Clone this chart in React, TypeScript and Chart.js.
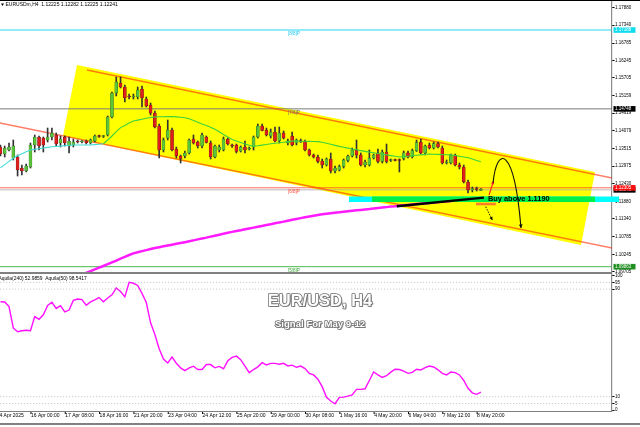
import React, { useEffect, useRef } from 'react';
import { Chart, registerables } from 'chart.js';

Chart.register(...registerables);

const FONT = "'Liberation Sans', Arial, Helvetica, sans-serif";

// ---------------- candles (EURUSD H4, bar 0 = 14 Apr 20:00) ----------------
const OPEN = [
  1.13567, 1.13351, 1.13474, 1.13227, 1.13258, 1.12917, 1.12825, 1.12948, 1.13629, 1.13877,
  1.13846, 1.13784, 1.13877, 1.13939, 1.13691, 1.13877, 1.13598, 1.13629, 1.13738, 1.13722,
  1.13753, 1.13691, 1.13753, 1.13908, 1.13893, 1.13939, 1.14496, 1.15239, 1.15548, 1.15424,
  1.15146, 1.15115, 1.15115, 1.15362, 1.15053, 1.14867, 1.14620, 1.14217, 1.13474, 1.13846,
  1.14094, 1.13505, 1.13289, 1.13289, 1.13382, 1.13815, 1.13722, 1.13598, 1.13877, 1.13691,
  1.13258, 1.13474, 1.13474, 1.13815, 1.13614, 1.13629, 1.13444, 1.13567, 1.13505, 1.13567,
  1.13877, 1.14217, 1.14094, 1.13908, 1.14032, 1.13753, 1.14001, 1.13691, 1.13908, 1.13691,
  1.13769, 1.13738, 1.13474, 1.13320, 1.13258, 1.13134, 1.13010, 1.13196, 1.12825, 1.12855,
  1.12964, 1.13150, 1.13289, 1.13474, 1.13320, 1.13010, 1.13010, 1.13227, 1.13382, 1.13119,
  1.13413, 1.13150, 1.13165, 1.13165, 1.13212, 1.13391, 1.13258, 1.13453, 1.13722, 1.13382,
  1.13629, 1.13536, 1.13676, 1.13536, 1.13072, 1.13072, 1.13305, 1.13010, 1.12948, 1.12484,
  1.12236, 1.12283, 1.12225,
];
const HIGH = [
  1.13629, 1.13598, 1.13691, 1.13784, 1.13320, 1.13010, 1.13041, 1.13691, 1.13939, 1.13908,
  1.13877, 1.14155, 1.14155, 1.14001, 1.13908, 1.13908, 1.13877, 1.13815, 1.13784, 1.13769,
  1.13784, 1.13815, 1.13939, 1.13939, 1.13924, 1.14527, 1.15270, 1.15734, 1.15734, 1.15486,
  1.15208, 1.15208, 1.15424, 1.15455, 1.15115, 1.14929, 1.14682, 1.14279, 1.13846, 1.14403,
  1.14155, 1.13567, 1.13320, 1.13444, 1.13815, 1.13939, 1.13753, 1.14001, 1.13908, 1.13753,
  1.13629, 1.13629, 1.13877, 1.13846, 1.13660, 1.13660, 1.13598, 1.13753, 1.13567, 1.13908,
  1.14279, 1.14279, 1.14155, 1.14124, 1.14186, 1.14186, 1.14063, 1.13815, 1.14032, 1.13815,
  1.13815, 1.13784, 1.13505, 1.13351, 1.13320, 1.13196, 1.13227, 1.13382, 1.12979, 1.13010,
  1.13196, 1.13320, 1.13536, 1.13784, 1.13382, 1.13165, 1.13474, 1.13351, 1.13505, 1.13474,
  1.13660, 1.13196, 1.13196, 1.13196, 1.13444, 1.13444, 1.13505, 1.13784, 1.13815, 1.13629,
  1.13691, 1.13722, 1.13722, 1.13598, 1.13165, 1.13351, 1.13351, 1.13072, 1.13010, 1.12546,
  1.12329, 1.12329, 1.12282,
];
const LOW = [
  1.13289, 1.13258, 1.13444, 1.13165, 1.12670, 1.12701, 1.12794, 1.12917, 1.13413, 1.13474,
  1.13413, 1.13722, 1.13784, 1.13598, 1.13567, 1.13598, 1.13382, 1.13567, 1.13691, 1.13691,
  1.13660, 1.13660, 1.13722, 1.13862, 1.13862, 1.13908, 1.14465, 1.15146, 1.15393, 1.14960,
  1.15053, 1.15053, 1.15053, 1.14805, 1.14805, 1.14558, 1.14155, 1.13227, 1.13413, 1.13784,
  1.13444, 1.13227, 1.13072, 1.13227, 1.13351, 1.13660, 1.13536, 1.13536, 1.13691, 1.13196,
  1.13227, 1.13413, 1.13444, 1.13629, 1.13552, 1.13382, 1.13413, 1.13382, 1.13474, 1.13474,
  1.13846, 1.14063, 1.13908, 1.13846, 1.13722, 1.13691, 1.13815, 1.13629, 1.13598, 1.13629,
  1.13707, 1.13444, 1.13289, 1.13227, 1.13072, 1.12917, 1.12979, 1.12763, 1.12763, 1.12825,
  1.12917, 1.13103, 1.13258, 1.13227, 1.12979, 1.12948, 1.12979, 1.13196, 1.13072, 1.13072,
  1.13072, 1.13119, 1.13134, 1.12794, 1.13165, 1.13227, 1.13227, 1.13428, 1.13351, 1.13320,
  1.13505, 1.13505, 1.13536, 1.13041, 1.13041, 1.13041, 1.12979, 1.12886, 1.12453, 1.12144,
  1.12175, 1.12206, 1.12225,
];
const CLOSE = [
  1.13351, 1.13536, 1.13567, 1.13598, 1.12855, 1.12825, 1.12979, 1.13629, 1.13877, 1.13598,
  1.13629, 1.13877, 1.14001, 1.13660, 1.13815, 1.13691, 1.13753, 1.13722, 1.13722, 1.13738,
  1.13691, 1.13784, 1.13908, 1.13893, 1.13908, 1.14496, 1.15239, 1.15579, 1.15424, 1.15084,
  1.15115, 1.15146, 1.15332, 1.15084, 1.14836, 1.14620, 1.14186, 1.13474, 1.13784, 1.14094,
  1.13474, 1.13289, 1.13212, 1.13382, 1.13784, 1.13691, 1.13598, 1.13939, 1.13707, 1.13258,
  1.13598, 1.13567, 1.13815, 1.13660, 1.13598, 1.13428, 1.13567, 1.13474, 1.13536, 1.13877,
  1.14217, 1.14078, 1.13939, 1.14032, 1.13753, 1.14001, 1.13846, 1.13753, 1.13629, 1.13784,
  1.13738, 1.13474, 1.13320, 1.13258, 1.13119, 1.13010, 1.13196, 1.12825, 1.12917, 1.12964,
  1.13165, 1.13289, 1.13474, 1.13320, 1.13010, 1.13103, 1.13227, 1.13320, 1.13119, 1.13413,
  1.13119, 1.13165, 1.13150, 1.13150, 1.13391, 1.13258, 1.13453, 1.13701, 1.13382, 1.13598,
  1.13536, 1.13676, 1.13567, 1.13072, 1.13088, 1.13320, 1.13010, 1.12948, 1.12494, 1.12236,
  1.12283, 1.12252, 1.12241,
];

// ---------------- moving averages ----------------
const MA_FAST = [
  1.12926, 1.13022, 1.13122, 1.13221, 1.13295, 1.13357, 1.13419, 1.13474, 1.13496, 1.13514,
  1.13536, 1.13555, 1.13573, 1.13583, 1.13595, 1.13607, 1.13620, 1.13629, 1.13629, 1.13629,
  1.13629, 1.13629, 1.13641, 1.13651, 1.13669, 1.13784, 1.13908, 1.14041, 1.14167, 1.14236,
  1.14310, 1.14375, 1.14400, 1.14428, 1.14456, 1.14481, 1.14499, 1.14502, 1.14505, 1.14508,
  1.14511, 1.14499, 1.14487, 1.14471, 1.14440, 1.14388, 1.14335, 1.14276, 1.14233, 1.14180,
  1.14118, 1.14038, 1.13957, 1.13880, 1.13800, 1.13750, 1.13707, 1.13663, 1.13620, 1.13586,
  1.13604, 1.13626, 1.13645, 1.13666, 1.13682, 1.13700, 1.13716, 1.13734, 1.13750, 1.13750,
  1.13747, 1.13744, 1.13741, 1.13738, 1.13734, 1.13713, 1.13682, 1.13651, 1.13617, 1.13586,
  1.13561, 1.13533, 1.13508, 1.13481, 1.13456, 1.13431, 1.13409, 1.13388, 1.13366, 1.13344,
  1.13323, 1.13301, 1.13280, 1.13258, 1.13270, 1.13283, 1.13298, 1.13311, 1.13323, 1.13339,
  1.13351, 1.13345, 1.13339, 1.13332, 1.13329, 1.13323, 1.13304, 1.13283, 1.13258, 1.13233,
  1.13199, 1.13153, 1.13110,
];
const MA_FAST_CYAN_UNTIL = 24;
const MA_SLOW_FIRST_BAR = 17;
const MA_SLOW = [
  1.09516, 1.09569, 1.09621, 1.09674, 1.09726, 1.09779, 1.09832, 1.09884,
  1.09940, 1.09996, 1.10051, 1.10110, 1.10169, 1.10225, 1.10277, 1.10311,
  1.10345, 1.10376, 1.10410, 1.10441, 1.10466, 1.10494, 1.10519, 1.10544,
  1.10571, 1.10596, 1.10621, 1.10649, 1.10677, 1.10708, 1.10736, 1.10763,
  1.10794, 1.10822, 1.10850, 1.10884, 1.10912, 1.10940, 1.10968, 1.10992,
  1.11020, 1.11045, 1.11073, 1.11098, 1.11125, 1.11153, 1.11178, 1.11206,
  1.11234, 1.11258, 1.11286, 1.11314, 1.11339, 1.11367, 1.11392, 1.11416,
  1.11441, 1.11466, 1.11488, 1.11503, 1.11518, 1.11534, 1.11549, 1.11565,
  1.11580, 1.11593, 1.11608, 1.11621, 1.11636, 1.11648, 1.11664, 1.11679,
  1.11692, 1.11707, 1.11723, 1.11735, 1.11751, 1.11763, 1.11775, 1.11788,
  1.11800, 1.11812, 1.11825, 1.11837, 1.11850, 1.11862, 1.11874, 1.11887,
  1.11899, 1.11915, 1.11927, 1.11939, 1.11952, 1.11964, 1.11980, 1.11992,
];

// ---------------- oscillator (Aquila) ----------------
const AQUILA = [
  80.6, 80.4, 77.0, 61.1, 58.3, 59.0, 59.4, 59.1, 69.5, 67.5,
  70.9, 77.8, 80.2, 75.6, 77.6, 73.1, 74.4, 81.6, 82.6, 82.2,
  78.0, 80.5, 81.9, 83.7, 80.5, 83.4, 85.7, 90.8, 88.2, 84.2,
  95.0, 94.3, 92.7, 86.8, 80.0, 64.9, 56.2, 45.7, 38.0, 35.1,
  39.5, 34.9, 31.4, 29.4, 31.4, 32.7, 30.2, 30.2, 33.9, 33.9,
  31.5, 32.5, 30.8, 36.7, 39.2, 40.2, 37.5, 32.8, 27.9, 30.2,
  32.2, 35.3, 33.6, 34.8, 34.8, 34.2, 34.8, 32.9, 33.5, 31.9,
  32.8, 30.9, 27.3, 26.2, 23.0, 17.5, 9.6, 6.8, 4.8, 9.5,
  9.7, 10.5, 11.4, 15.5, 15.5, 15.9, 22.1, 28.4, 26.2, 24.4,
  25.6, 28.3, 30.4, 30.2, 29.1, 27.4, 28.1, 30.4, 29.9, 31.6,
  32.8, 32.1, 30.0, 27.4, 26.2, 28.4, 27.9, 26.2, 22.1, 16.3,
  12.9, 11.8, 13.4,
];
const OSC_TICKS = [100, 95, 90, 10, 5, 0];
const OSC_LEVELS = [95, 90, 10, 5];

// ---------------- axes ----------------
const PRICE_TICKS = [
  1.1788, 1.1734, 1.16785, 1.16245, 1.15705, 1.15159, 1.14619, 1.14079,
  1.13515, 1.12975, 1.1243, 1.1188, 1.1134, 1.10785, 1.10245, 1.09705,
];
const TIME_LABELS = [
  '14 Apr 2025', '16 Apr 00:00', '17 Apr 08:00', '18 Apr 16:00', '21 Apr 20:00',
  '23 Apr 04:00', '24 Apr 12:00', '25 Apr 20:00', '29 Apr 00:00', '30 Apr 08:00',
  '1 May 16:00', '4 May 20:00', '6 May 04:00', '7 May 12:00', '8 May 20:00',
];
const TIME_LABEL_BARS = [-1, 7, 15, 23, 31, 39, 47, 55, 63, 71, 79, 87, 95, 103, 111];

// ---------------- levels / drawn objects ----------------
const MURREY_NAMES = ['[8/8]P', '[7/8]P', '[6/8]P', '[5/8]P'];
const MURREY_VALUES = [1.17188, 1.14748, 1.12305, 1.09863];
const MURREY_LABEL_BAR = 67;
const BID = 1.12241;
const AXIS_BOX_VALUES = [1.17188, 1.14748, 1.12241, 1.12305, 1.09863];

const CHANNEL_BOX_BARS = [17.85, 138.6, 135.33, 14.59];
const CHANNEL_BOX_PRICES = [1.16105, 1.12794, 1.10534, 1.13908];
const CHANNEL_UPPER_BARS = [20.18, 142.6];
const CHANNEL_UPPER_PRICES = [1.1595, 1.12608];
const CHANNEL_LOWER_BARS = [-0.1, 142.6];
const CHANNEL_LOWER_PRICES = [1.1431, 1.10441];
const SUPPORT_BARS = [92.4, 112.7];
const SUPPORT_PRICES = [1.11735, 1.12];
const BUY_ZONE_BARS = [81.25, 144.2];
const BUY_ZONE_INNER_BARS = [86.6, 138.6];
const BUY_ZONE_PRICES = [1.11865, 1.12035];
const BUY_TEXT = 'Buy above 1.1190';
const BUY_TEXT_BAR = 113.65;
const BUY_TEXT_PRICE = 1.11958;
const ORANGE_MARK_BARS = [110.86, 115.5];
const ORANGE_MARK_PRICE = 1.11803;
const RED_ARROW_BARS = [113.9, 114.94];
const RED_ARROW_PRICES = [1.12082, 1.12515];
const ARC_BARS = [114.82, 115.75, 119.71, 121.35];
const ARC_PRICES = [1.12453, 1.13629, 1.13629, 1.1106];
const DROP_ARROW_BARS = [113.12, 114.66];
const DROP_ARROW_PRICES = [1.1172, 1.11308];

// ---------------- layout constants ----------------
const X_MIN = -0.1;
const X_MAX = -0.1 + 612 / 4.29;
const Y_MIN = 1.09699;
const Y_MAX = 1.18117;

const MURREY_COLORS = ['#22d8f0', '#7a7a7a', 'rgba(255,60,40,0.75)', '#49b84a'];
const MURREY_TEXT_COLORS = ['#22c8f0', '#6a6a6a', '#ff4a3a', '#3aa83a'];
const BOX_COLORS = ['#10dcef', '#000000', '#000000', '#ff1010', '#1f8f1f'];

function arrowHead(ctx: CanvasRenderingContext2D, x0: number, y0: number, x1: number, y1: number, size: number, color: string) {
  const ang = Math.atan2(y1 - y0, x1 - x0);
  ctx.fillStyle = color;
  ctx.beginPath();
  ctx.moveTo(x1, y1);
  ctx.lineTo(x1 - size * Math.cos(ang - 0.5), y1 - size * Math.sin(ang - 0.5));
  ctx.lineTo(x1 - size * Math.cos(ang + 0.5), y1 - size * Math.sin(ang + 0.5));
  ctx.closePath();
  ctx.fill();
}

const mainDecor = {
  id: 'mainDecor',
  beforeDatasetsDraw(chart: any) {
    const { ctx, chartArea: a, scales } = chart;
    const X = (v: number) => scales.x.getPixelForValue(v);
    const Y = (v: number) => scales.y.getPixelForValue(v);
    ctx.save();
    ctx.beginPath();
    ctx.rect(a.left, a.top, a.right - a.left, a.bottom - a.top);
    ctx.clip();
    ctx.beginPath();
    CHANNEL_BOX_BARS.forEach((b, i) => {
      const px = X(b);
      const py = Y(CHANNEL_BOX_PRICES[i]);
      if (i === 0) ctx.moveTo(px, py);
      else ctx.lineTo(px, py);
    });
    ctx.closePath();
    ctx.fillStyle = '#ffff00';
    ctx.fill();
    ctx.restore();
  },
  afterDatasetsDraw(chart: any) {
    const { ctx, scales } = chart;
    const X = (v: number) => scales.x.getPixelForValue(v);
    const Y = (v: number) => scales.y.getPixelForValue(v);
    ctx.save();

    // Murrey level labels
    ctx.font = `4.6px ${FONT}`;
    ctx.textAlign = 'left';
    ctx.textBaseline = 'top';
    MURREY_NAMES.forEach((n, i) => {
      ctx.fillStyle = MURREY_TEXT_COLORS[i];
      ctx.fillText(n, X(MURREY_LABEL_BAR), Y(MURREY_VALUES[i]) + 1.5);
    });

    // buy zone band
    const zTop = Y(BUY_ZONE_PRICES[1]);
    const zBot = Y(BUY_ZONE_PRICES[0]);
    ctx.fillStyle = '#00ffff';
    ctx.fillRect(X(BUY_ZONE_BARS[0]), zTop, X(BUY_ZONE_BARS[1]) - X(BUY_ZONE_BARS[0]), zBot - zTop);
    ctx.fillStyle = '#00f04a';
    ctx.fillRect(X(BUY_ZONE_INNER_BARS[0]), zTop, X(BUY_ZONE_INNER_BARS[1]) - X(BUY_ZONE_INNER_BARS[0]), zBot - zTop);

    // black support line
    ctx.strokeStyle = '#000';
    ctx.lineWidth = 2.4;
    ctx.beginPath();
    ctx.moveTo(X(SUPPORT_BARS[0]), Y(SUPPORT_PRICES[0]));
    ctx.lineTo(X(SUPPORT_BARS[1]), Y(SUPPORT_PRICES[1]));
    ctx.stroke();

    // orange mark
    ctx.strokeStyle = '#ff7f27';
    ctx.lineWidth = 2.6;
    ctx.beginPath();
    ctx.moveTo(X(ORANGE_MARK_BARS[0]), Y(ORANGE_MARK_PRICE));
    ctx.lineTo(X(ORANGE_MARK_BARS[1]), Y(ORANGE_MARK_PRICE));
    ctx.stroke();

    // dashed drop arrow
    const d0x = X(DROP_ARROW_BARS[0]), d0y = Y(DROP_ARROW_PRICES[0]);
    const d1x = X(DROP_ARROW_BARS[1]), d1y = Y(DROP_ARROW_PRICES[1]);
    ctx.strokeStyle = '#000';
    ctx.lineWidth = 0.9;
    ctx.setLineDash([1.5, 1.2]);
    ctx.beginPath();
    ctx.moveTo(d0x, d0y);
    ctx.lineTo(d1x, d1y);
    ctx.stroke();
    ctx.setLineDash([]);
    arrowHead(ctx, d0x, d0y, d1x, d1y, 3.5, '#000');

    // red up arrow
    const r0x = X(RED_ARROW_BARS[0]), r0y = Y(RED_ARROW_PRICES[0]);
    const r1x = X(RED_ARROW_BARS[1]), r1y = Y(RED_ARROW_PRICES[1]);
    ctx.strokeStyle = '#ff2020';
    ctx.lineWidth = 1.1;
    ctx.beginPath();
    ctx.moveTo(r0x, r0y);
    ctx.lineTo(r1x, r1y);
    ctx.stroke();
    arrowHead(ctx, r0x, r0y, r1x, r1y, 3.5, '#ff2020');

    // black arc
    const ax = ARC_BARS.map(X);
    const ay = ARC_PRICES.map(Y);
    ctx.strokeStyle = '#111';
    ctx.lineWidth = 1.1;
    ctx.beginPath();
    ctx.moveTo(ax[0], ay[0]);
    ctx.bezierCurveTo(ax[1], ay[1], ax[2], ay[2], ax[3], ay[3]);
    ctx.stroke();
    arrowHead(ctx, ax[2], ay[2], ax[3], ay[3], 4, '#111');

    // text
    ctx.font = `bold 7.4px ${FONT}`;
    ctx.fillStyle = '#000';
    ctx.textAlign = 'left';
    ctx.textBaseline = 'middle';
    ctx.fillText(BUY_TEXT, X(BUY_TEXT_BAR), Y(BUY_TEXT_PRICE));

    ctx.restore();
  },
  afterDraw(chart: any) {
    const { ctx, chartArea: a, scales } = chart;
    const Y = (v: number) => scales.y.getPixelForValue(v);
    ctx.save();
    ctx.font = `4.5px ${FONT}`;
    ctx.textAlign = 'left';
    ctx.textBaseline = 'middle';
    AXIS_BOX_VALUES.forEach((v, i) => {
      const py = Y(v);
      ctx.fillStyle = BOX_COLORS[i];
      ctx.fillRect(a.right + 1.5, py - 2.8, 22, 5.6);
      ctx.fillStyle = '#fff';
      ctx.fillText(v.toFixed(5), a.right + 3, py + 0.2);
    });
    // header
    ctx.fillStyle = '#000';
    ctx.beginPath();
    ctx.moveTo(1, 3.5);
    ctx.lineTo(4, 3.5);
    ctx.lineTo(2.5, 6);
    ctx.closePath();
    ctx.fill();
    ctx.font = `5px ${FONT}`;
    ctx.fillText('EURUSDm,H4  1.12225 1.12282 1.12225 1.12241', 5.5, 5);
    ctx.restore();
  },
};

const oscDecor = {
  id: 'oscDecor',
  afterDraw(chart: any) {
    const { ctx, chartArea: a, scales } = chart;
    const X = (v: number) => scales.x.getPixelForValue(v);
    ctx.save();
    ctx.strokeStyle = '#808080';
    ctx.lineWidth = 1;
    ctx.beginPath();
    ctx.moveTo(0, a.bottom + 0.5);
    ctx.lineTo(a.right, a.bottom + 0.5);
    ctx.stroke();

    ctx.font = `5px ${FONT}`;
    ctx.fillStyle = '#000';
    ctx.textAlign = 'left';
    ctx.textBaseline = 'top';
    ctx.strokeStyle = '#000';
    TIME_LABELS.forEach((t, i) => {
      const px = X(TIME_LABEL_BARS[i]);
      ctx.beginPath();
      ctx.moveTo(px + 0.5, a.bottom + 1);
      ctx.lineTo(px + 0.5, a.bottom + 3);
      ctx.stroke();
      ctx.fillText(t, px + 0.5, a.bottom + 2.4);
    });

    ctx.font = `4.9px ${FONT}`;
    ctx.textBaseline = 'middle';
    ctx.fillText('Aquila(240) 52.9859  Aquila(50) 98.5417', -1.5, 5.8);

    const cx = 320;
    const drawTitle = (txt: string, size: number, y: number) => {
      ctx.font = `bold ${size}px ${FONT}`;
      ctx.textAlign = 'center';
      ctx.textBaseline = 'middle';
      ctx.lineJoin = 'round';
      ctx.fillStyle = '#9a9a9a';
      ctx.fillText(txt, cx + 1.2, y + 1.2);
      ctx.strokeStyle = '#6e6e6e';
      ctx.lineWidth = 1.6;
      ctx.strokeText(txt, cx, y);
      ctx.fillStyle = '#ffffff';
      ctx.fillText(txt, cx, y);
    };
    drawTitle('EUR/USD, H4', 16.5, 28.7);
    drawTitle('Signal For May 9-12', 9.6, 51.3);
    ctx.restore();
  },
};

function mainConfig(): any {
  const bars = OPEN.map((_, i) => i);
  const flat = (v: number) => [{ x: X_MIN, y: v }, { x: X_MAX + 3, y: v }];
  const datasets: any[] = [];
  MURREY_VALUES.forEach((v, i) => {
    datasets.push({
      type: 'line', data: flat(v), borderColor: MURREY_COLORS[i], borderWidth: 1,
      pointRadius: 0, order: 9,
    });
  });
  datasets.push({
    type: 'line', data: flat(BID), borderColor: '#a8a8a8', borderWidth: 0.8, pointRadius: 0, order: 9,
  });
  datasets.push({
    type: 'line',
    data: CHANNEL_UPPER_BARS.map((b, i) => ({ x: b, y: CHANNEL_UPPER_PRICES[i] })),
    borderColor: 'rgba(255,45,10,0.62)', borderWidth: 1.4, pointRadius: 0, order: 8,
  });
  datasets.push({
    type: 'line',
    data: CHANNEL_LOWER_BARS.map((b, i) => ({ x: b, y: CHANNEL_LOWER_PRICES[i] })),
    borderColor: 'rgba(255,45,10,0.62)', borderWidth: 1.4, pointRadius: 0, order: 8,
  });
  datasets.push({
    type: 'bar',
    data: bars.map((i) => ({ x: i, y: [LOW[i], HIGH[i]] })),
    backgroundColor: '#333333', barThickness: 1, grouped: false, order: 6,
  });
  datasets.push({
    type: 'bar',
    data: bars.map((i) => ({ x: i, y: [OPEN[i], CLOSE[i]] })),
    backgroundColor: bars.map((i) => (CLOSE[i] >= OPEN[i] ? '#5cc63a' : '#e01e1e')),
    borderColor: bars.map((i) => (CLOSE[i] >= OPEN[i] ? '#2f6e1e' : '#6e1010')),
    borderWidth: 0.5, borderSkipped: false,
    barThickness: 3, minBarLength: 1, grouped: false, order: 5,
  });
  datasets.push({
    type: 'line',
    data: bars.map((i) => ({ x: i, y: MA_FAST[i] })),
    borderColor: '#3cd23c', borderWidth: 1.1, pointRadius: 0, order: 2,
    segment: { borderColor: (c: any) => (c.p0DataIndex < MA_FAST_CYAN_UNTIL ? '#40dcd6' : '#3cd23c') },
  });
  datasets.push({
    type: 'line',
    data: MA_SLOW.map((v, k) => ({ x: k + MA_SLOW_FIRST_BAR, y: v })),
    borderColor: '#ff1aff', borderWidth: 2.5, pointRadius: 0, order: 1,
  });

  return {
    type: 'line',
    data: { datasets },
    options: {
      animation: false,
      responsive: false,
      devicePixelRatio: 1,
      events: [],
      layout: { padding: { left: 0, right: 0, top: 0, bottom: 6 } },
      plugins: { legend: { display: false }, tooltip: { enabled: false } },
      scales: {
        x: { type: 'linear', min: X_MIN, max: X_MAX, display: false, offset: false },
        y: {
          type: 'linear', position: 'right', min: Y_MIN, max: Y_MAX,
          afterBuildTicks: (s: any) => { s.ticks = PRICE_TICKS.map((v) => ({ value: v })); },
          afterFit: (s: any) => { s.width = 28; s.paddingTop = 0; s.paddingBottom = 0; },
          ticks: {
            autoSkip: false, padding: 0.5, color: '#000',
            font: { size: 4.5, family: FONT },
            callback: (v: any) => Number(v).toFixed(5),
          },
          grid: { drawOnChartArea: false, drawTicks: true, tickLength: 2.5, color: '#000' },
          border: { display: true, color: '#8c8c8c', width: 1.2 },
        },
      },
    },
    plugins: [mainDecor],
  };
}

function oscConfig(): any {
  const bars = AQUILA.map((_, i) => i);
  const datasets: any[] = OSC_LEVELS.map((v) => ({
    type: 'line', data: [{ x: X_MIN, y: v }, { x: X_MAX, y: v }],
    borderColor: '#bdbdbd', borderWidth: 0.8, borderDash: [1.2, 1.8], pointRadius: 0, order: 5,
  }));
  datasets.push({
    type: 'line', data: bars.map((i) => ({ x: i, y: AQUILA[i] })),
    borderColor: '#ff10ff', borderWidth: 1.4, pointRadius: 0, order: 1,
  });
  return {
    type: 'line',
    data: { datasets },
    options: {
      animation: false,
      responsive: false,
      devicePixelRatio: 1,
      events: [],
      layout: { padding: { left: 0, right: 0, top: 1, bottom: 16 } },
      plugins: { legend: { display: false }, tooltip: { enabled: false } },
      scales: {
        x: { type: 'linear', min: X_MIN, max: X_MAX, display: false },
        y: {
          type: 'linear', position: 'right', min: -0.6, max: 101.2,
          afterBuildTicks: (s: any) => { s.ticks = OSC_TICKS.map((v) => ({ value: v })); },
          afterFit: (s: any) => { s.width = 28; s.paddingTop = 0; s.paddingBottom = 0; },
          ticks: { autoSkip: false, padding: 0.5, color: '#000', font: { size: 4.5, family: FONT } },
          grid: { drawOnChartArea: false, drawTicks: true, tickLength: 2.5, color: '#000' },
          border: { display: true, color: '#8c8c8c', width: 1.2 },
        },
      },
    },
    plugins: [oscDecor],
  };
}

export default function App() {
  const mainRef = useRef<HTMLCanvasElement>(null);
  const oscRef = useRef<HTMLCanvasElement>(null);
  useEffect(() => {
    document.body.style.margin = '0';
    const main = new Chart(mainRef.current as HTMLCanvasElement, mainConfig());
    const osc = new Chart(oscRef.current as HTMLCanvasElement, oscConfig());
    return () => {
      main.destroy();
      osc.destroy();
    };
  }, []);
  return (
    <div style={{ position: 'fixed', left: 0, top: 0, width: 640, height: 427, background: '#fff', overflow: 'hidden' }}>
      <canvas ref={mainRef} width={640} height={278} style={{ position: 'absolute', left: 0, top: 0, width: 640, height: 278 }} />
      <canvas ref={oscRef} width={640} height={154} style={{ position: 'absolute', left: 0, top: 273, width: 640, height: 154 }} />
      <div style={{ position: 'absolute', left: 0, top: 0, width: 640, height: 1, background: '#000' }} />
      <div style={{ position: 'absolute', left: 0, top: 272, width: 612, height: 2, background: '#808080' }} />
      <div style={{ position: 'absolute', left: 0, top: 423, width: 640, height: 2, background: '#808080' }} />
    </div>
  );
}
